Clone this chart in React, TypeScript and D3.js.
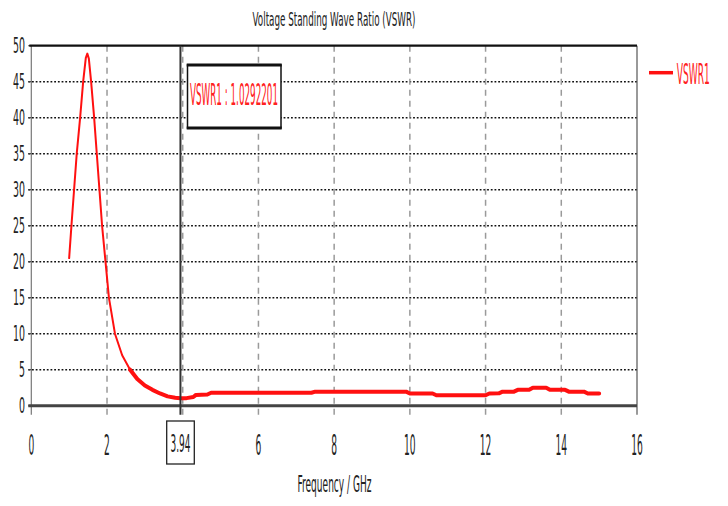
import React from "react";
import * as d3 from "d3";

const title = "Voltage Standing Wave Ratio (VSWR)";
const xLabel = "Frequency / GHz";
const seriesName = "VSWR1";
const markerFreq = 3.94;
const markerValue = "1.0292201";

const xTicks = [0, 2, 4, 6, 8, 10, 12, 14, 16];
const yTicks = [0, 5, 10, 15, 20, 25, 30, 35, 40, 45, 50];

// steep (resonance) part
const freqA = [1.0, 1.06, 1.13, 1.2, 1.29, 1.37, 1.44, 1.48, 1.52, 1.58, 1.66, 1.73, 1.8, 1.87, 1.96, 2.05, 2.21, 2.4, 2.61];
const vswrA = [20.5, 25, 30, 35, 40, 45, 48.3, 48.9, 48.2, 45, 40, 35, 30, 25, 20, 15, 10, 7, 5];
// flat part
const freqB = [2.61, 2.8, 3.0, 3.2, 3.4, 3.6, 3.8, 3.94, 4.1, 4.28, 4.35, 4.65, 4.75, 7.4, 7.5, 9.9, 10.0, 10.6, 10.7, 12.0, 12.1, 12.35, 12.45, 12.75, 12.85, 13.15, 13.25, 13.6, 13.7, 14.1, 14.2, 14.6, 14.7, 15.0];
const vswrB = [5, 3.7, 2.8, 2.2, 1.7, 1.3, 1.1, 1.03, 1.05, 1.2, 1.5, 1.55, 1.8, 1.8, 1.95, 1.95, 1.7, 1.7, 1.45, 1.45, 1.7, 1.72, 1.95, 1.95, 2.2, 2.2, 2.5, 2.5, 2.2, 2.2, 1.95, 1.95, 1.7, 1.7];

const W = 728;
const H = 506;
const FONT = "'DejaVu Sans', sans-serif";

export default function App() {
  const x = d3.scaleLinear().domain([0, 16]).range([31.3, 637]);
  const y = d3.scaleLinear().domain([0, 50]).range([405.7, 45.7]);
  const mk = (fs: number[], vs: number[]) =>
    d3
      .line<number>()
      .x((f) => x(f))
      .y((_, i) => y(vs[i]))
      .curve(d3.curveLinear)(fs) || "";
  const pathA = mk(freqA, vswrA);
  const pathB = mk(freqB, vswrB);
  const [x0, x1] = x.range();
  const [yb, yt] = y.range();
  const mx = x(markerFreq);

  return (
    <div style={{ position: "absolute", left: 0, top: 0 }}>
      <svg width={W} height={H} style={{ display: "block", background: "#fff" }}>
        {/* title */}
        <text x={334} y={26} fontFamily={FONT} fontSize={19.5} textAnchor="middle" fill="#222" textLength={163} lengthAdjust="spacingAndGlyphs">
          {title}
        </text>
        {/* horizontal dotted grid */}
        {yTicks.filter((t) => t > 0 && t < 50).map((t) => (
          <line key={"h" + t} x1={x0 - 3} x2={x1} y1={y(t)} y2={y(t)} stroke="#111" strokeWidth={1.6} strokeDasharray="1.8,1.9" />
        ))}
        {/* vertical dashed grid */}
        {xTicks.filter((t) => t > 0 && t < 16).map((t) => (
          <line key={"v" + t} x1={x(t)} x2={x(t)} y1={yt} y2={yb + 9} stroke="#9a9a9a" strokeWidth={1.5} strokeDasharray="6,5" />
        ))}
        {/* left & right borders */}
        <line x1={x0} x2={x0} y1={yt} y2={yb + 9} stroke="#777" strokeWidth={1.2} />
        <line x1={x1} x2={x1} y1={yt} y2={yb + 9} stroke="#555" strokeWidth={1.2} />
        {/* y ticks */}
        {yTicks.map((t) => (
          <line key={"yt" + t} x1={x0 - 3} x2={x0} y1={y(t)} y2={y(t)} stroke="#444" strokeWidth={1.2} />
        ))}
        {/* top border */}
        <line x1={x0 - 2} x2={x1} y1={yt} y2={yt} stroke="#111" strokeWidth={2.2} />
        {/* bottom axis */}
        <line x1={x0 - 3} x2={x1} y1={yb} y2={yb} stroke="#444" strokeWidth={3} />
        {/* curve */}
        <path d={pathA} fill="none" stroke="#ff1010" strokeWidth={2} strokeLinejoin="round" strokeLinecap="round" />
        <path d={pathB} fill="none" stroke="#ff1010" strokeWidth={4} strokeLinejoin="round" strokeLinecap="round" />
        {/* marker line */}
        <line x1={mx} x2={mx} y1={yt} y2={yb + 9} stroke="#333" strokeWidth={2} />
        {/* marker box */}
        <rect x={187.5} y={65} width={93.5} height={63} fill="#fff" stroke="#111" strokeWidth={1.5} />
        <line x1={186.7} x2={281.7} y1={65} y2={65} stroke="#111" strokeWidth={3} />
        <line x1={186.7} x2={281.7} y1={128} y2={128} stroke="#111" strokeWidth={3} />
        <text x={234} y={105} fontFamily={FONT} fontSize={30} textAnchor="middle" fill="#ff2020" textLength={88} lengthAdjust="spacingAndGlyphs">
          {seriesName + " : " + markerValue}
        </text>
        {/* y tick labels */}
        {yTicks.map((t) => {
          const s = String(t);
          return (
            <text key={"yl" + t} x={25} y={y(t) + 7.5} fontFamily={FONT} fontSize={20.5} textAnchor="end" fill="#222" textLength={6 * s.length} lengthAdjust="spacingAndGlyphs">
              {s}
            </text>
          );
        })}
        {/* x tick labels */}
        {xTicks.filter((t) => Math.abs(t - markerFreq) > 0.5).map((t) => {
          const s = String(t);
          return (
            <text key={"xl" + t} x={x(t)} y={455} fontFamily={FONT} fontSize={28} textAnchor="middle" fill="#222" textLength={5.8 * s.length} lengthAdjust="spacingAndGlyphs">
              {s}
            </text>
          );
        })}
        {/* marker x box */}
        <rect x={166.7} y={421} width={27.6} height={43} fill="#fff" stroke="#222" strokeWidth={1.3} />
        <text x={180.5} y={452} fontFamily={FONT} fontSize={24} textAnchor="middle" fill="#222" textLength={20} lengthAdjust="spacingAndGlyphs">
          {String(markerFreq)}
        </text>
        {/* x label */}
        <text x={334.5} y={492} fontFamily={FONT} fontSize={23} textAnchor="middle" fill="#222" textLength={74} lengthAdjust="spacingAndGlyphs">
          {xLabel}
        </text>
        {/* legend */}
        <line x1={649} x2={673} y1={72.7} y2={72.7} stroke="#ff1010" strokeWidth={3.5} />
        <text transform="translate(676.7,84) scale(0.313,1)" x={0} y={0} fontFamily={FONT} fontSize={29} fill="#ff2020">
          {seriesName}
        </text>
      </svg>
    </div>
  );
}
